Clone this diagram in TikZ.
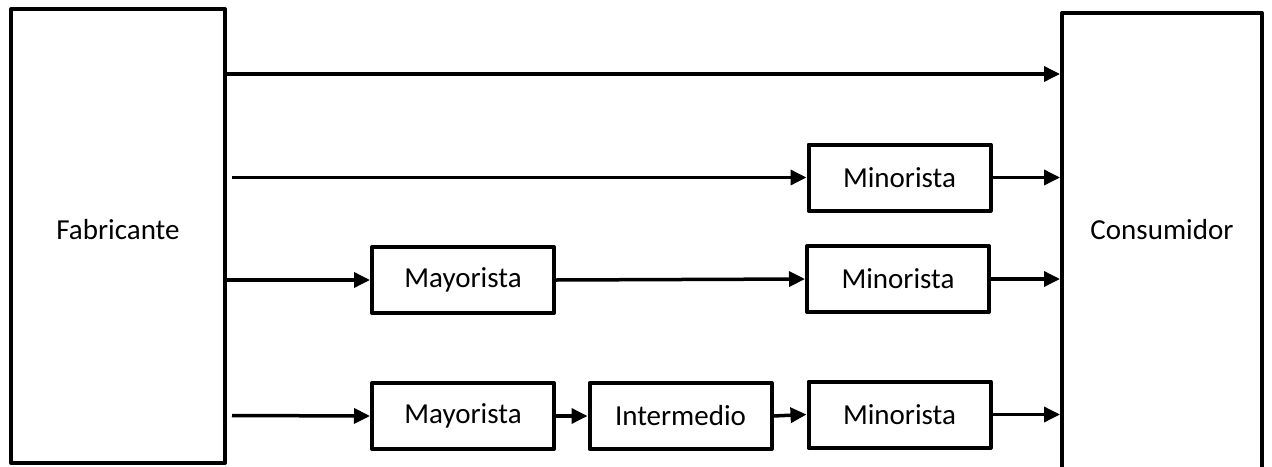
\documentclass[tikz,border=0pt]{standalone}
\usepackage{fontspec}
\setmainfont{Carlito}
\usetikzlibrary{arrows.meta,positioning}
\begin{document}
\begin{tikzpicture}[x=1pt,y=-1pt,line join=round,line width=3.5pt,>={Triangle[length=16pt,width=15pt]},font=\fontsize{29}{34}\selectfont,
    bloque/.style={draw,line width=4pt,inner sep=0pt},
    caja/.style={bloque,minimum width=182pt,minimum height=66pt}]
    \useasboundingbox (0,0) rectangle (1272,466);
    \node[bloque,minimum width=214pt,minimum height=454pt] (fabricante) at (118,236) {};
    \node (tfab) at (118,230) {Fabricante};
    \node[bloque,minimum width=200pt,minimum height=480pt] (consumidor) at (1162,253) {};
    \node (tcons) at (1162,230) {Consumidor};
    % canales
    \node[caja] (min1) at (899.5,177.5) {Minorista};
    \node[caja] (may1) at (463,280) {Mayorista};
    \node[caja] (min2) at (898,279) {Minorista};
    \node[caja] (may2) at (463,416) {Mayorista};
    \node[caja] (inter) at (680.5,416) {Intermedio};
    \node[caja] (min3) at (899.5,414.5) {Minorista};
    \coordinate (c1) at (225,74);
    \coordinate (c2) at (232,177.5);
    \coordinate (c3) at (225,280);
    \coordinate (c4) at (232,415.5);
    \draw[->] (c1) -- (c1 -| consumidor.west);
    \draw[->] (c2) -- (min1.west);
    \draw[->] (min1.east) -- (min1.east -| consumidor.west);
    \draw[->] (c3) -- (may1.west);
    \draw[->] (may1.east) -- (min2.west);
    \draw[->] (min2.east) -- (min2.east -| consumidor.west);
    \draw[->] (c4) -- (may2.west);
    \draw[->] (may2.east) -- (inter.west);
    \draw[->] (inter.east) -- (min3.west);
    \draw[->] (min3.east) -- (min3.east -| consumidor.west);
\end{tikzpicture}
\end{document}
